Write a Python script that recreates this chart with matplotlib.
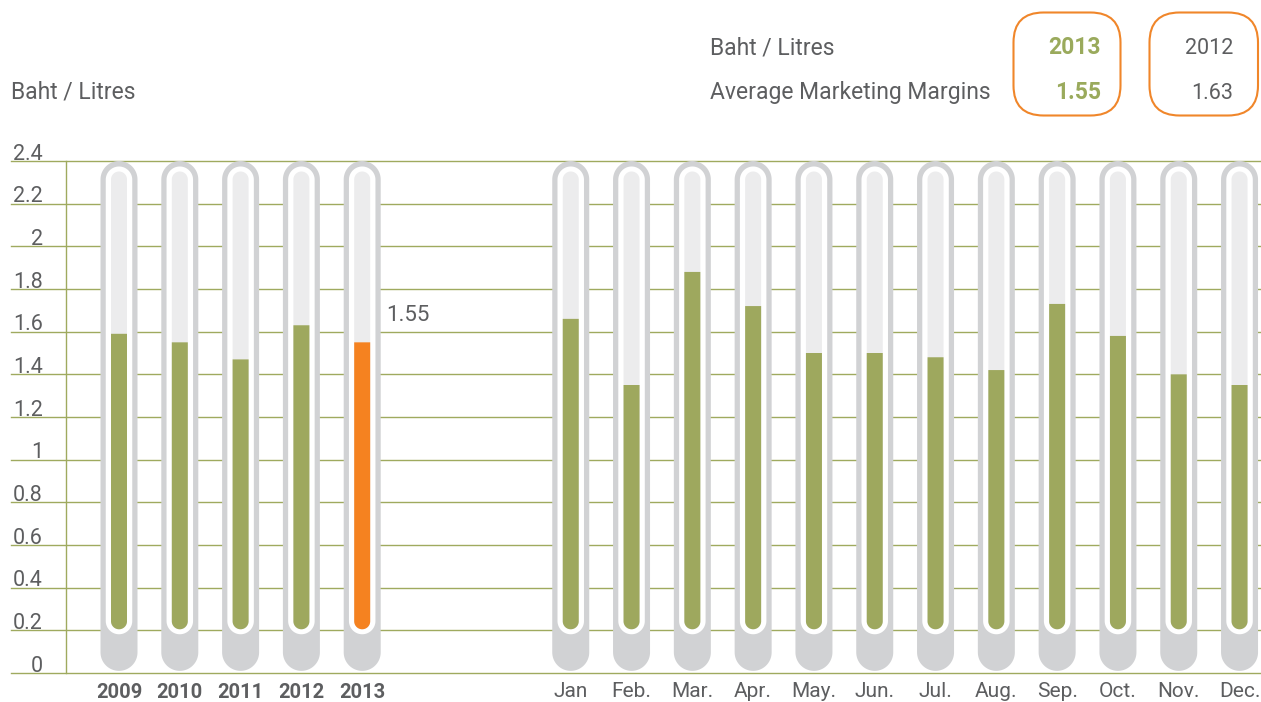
import numpy as np
import matplotlib
matplotlib.use("Agg")
import matplotlib.pyplot as plt
from matplotlib.patches import Polygon, FancyBboxPatch
from matplotlib import transforms

# ---- data -------------------------------------------------------------
years = ["2009", "2010", "2011", "2012", "2013"]
year_margins = [1.59, 1.55, 1.47, 1.63, 1.55]

months = ["Jan", "Feb.", "Mar.", "Apr.", "May.", "Jun.",
          "Jul.", "Aug.", "Sep.", "Oct.", "Nov.", "Dec."]
month_margins = [1.66, 1.35, 1.88, 1.72, 1.50, 1.50,
                 1.48, 1.42, 1.73, 1.58, 1.40, 1.35]

y_ticks = [0, 0.2, 0.4, 0.6, 0.8, 1.0, 1.2, 1.4, 1.6, 1.8, 2.0, 2.2, 2.4]
y_tick_labels = ["0", "0.2", "0.4", "0.6", "0.8", "1", "1.2", "1.4",
                 "1.6", "1.8", "2", "2.2", "2.4"]

summary_years = ["2013", "2012"]
summary_values = [1.55, 1.63]
unit_label = "Baht / Litres"
summary_label = "Average Marketing Margins"

# ---- style ------------------------------------------------------------
FONT = ["Roboto", "DejaVu Sans"]
TEXT = "#5d5e60"
GREEN_TEXT = "#9aaa5c"
GRID = "#9faa5f"
TUBE = "#d1d2d4"
TUBE_INNER = "#ececed"
GREEN = "#9ea85e"
ORANGE = "#f58220"
BOX = "#f0862a"

plt.rcParams["font.family"] = FONT

W, H = 1261, 702
fig = plt.figure(figsize=(W / 100, H / 100), dpi=100)
fig.patch.set_facecolor("white")

# main plotting area (positions in pixels of the canvas)
ax_left, ax_right, ax_bottom, ax_top = 66, 1261, 29, 541
ax = fig.add_axes([ax_left / W, ax_bottom / H,
                   (ax_right - ax_left) / W, (ax_top - ax_bottom) / H])
slot_px = 60.8
x0 = -(119 - ax_left) / slot_px
ax.set_xlim(x0, x0 + (ax_right - ax_left) / slot_px)
ax.set_ylim(0, 2.4)
ax.axis("off")

year_pos = np.arange(len(years))
month_pos = 7.43 + np.arange(len(months))

PX_X = ax.transData.transform((1, 0))[0] - ax.transData.transform((0, 0))[0]
PX_Y = ax.transData.transform((0, 1))[1] - ax.transData.transform((0, 0))[1]

# gridlines reaching out under the tick labels
grid_xmin = (11 - ax_left) / (ax_right - ax_left)
for t in y_ticks:
    ax.axhline(t, xmin=grid_xmin, xmax=1, color=GRID, lw=1.0,
               clip_on=False, zorder=1)
ax.plot([x0, x0], [0, 2.4], color=GRID, lw=1.0, clip_on=False, zorder=1)

# y tick labels sitting just above each gridline
lab_x = (43 - ax_left) / (ax_right - ax_left)
ytrans = transforms.offset_copy(
    transforms.blended_transform_factory(ax.transAxes, ax.transData),
    fig=fig, x=0, y=1.5, units="dots")
for t, lab in zip(y_ticks, y_tick_labels):
    ax.text(lab_x, t, lab, transform=ytrans, ha="right", va="baseline",
            fontsize=15.5, color=TEXT)


def capsule(xc, y_lo, y_hi, w_px, color, z, round_top=True):
    rx = w_px / 2 / PX_X
    ry = w_px / 2 / PX_Y
    t = np.linspace(0, np.pi, 48)
    if round_top:
        top = np.column_stack([xc + rx * np.cos(t),
                               (y_hi - ry) + ry * np.sin(t)])
    else:
        top = np.array([[xc + rx, y_hi], [xc - rx, y_hi]])
    bot = np.column_stack([xc - rx * np.cos(t),
                           (y_lo + ry) - ry * np.sin(t)])
    poly = Polygon(np.vstack([top, bot]), closed=True, facecolor=color,
                   edgecolor="none", lw=0, zorder=z, clip_on=False)
    ax.add_patch(poly)


BAR_FLOOR = 0.205
positions = list(year_pos) + list(month_pos)
values = list(year_margins) + list(month_margins)
colors = [GREEN] * (len(years) - 1) + [ORANGE] + [GREEN] * len(months)

for xc, v, c in zip(positions, values, colors):
    capsule(xc, 0.01, 2.4, 37, TUBE, 2)
    capsule(xc, BAR_FLOOR - 5 / PX_Y, 2.4 - 5.5 / PX_Y, 26.5, "white", 3)
    capsule(xc, BAR_FLOOR, 2.4 - 10.5 / PX_Y, 16, TUBE_INNER, 4)
    capsule(xc, BAR_FLOOR, v, 16, c, 5, round_top=False)

# value label for the latest year
lab_tr = transforms.offset_copy(ax.transData, fig=fig, x=24, y=21.5, units="dots")
ax.text(year_pos[-1], year_margins[-1], f"{year_margins[-1]:.2f}",
        transform=lab_tr, ha="left", va="baseline", fontsize=16,
        color=TEXT)

# category labels below the baseline
xtrans_y = transforms.offset_copy(
    transforms.blended_transform_factory(ax.transData, ax.transAxes),
    fig=fig, x=0, y=-25.5, units="dots")
for xc, lab in zip(year_pos, years):
    ax.text(xc, 0, lab, transform=xtrans_y, ha="center", va="baseline",
            fontsize=14.5, fontweight="bold", color=TEXT)
xtrans_m = transforms.offset_copy(
    transforms.blended_transform_factory(ax.transData, ax.transAxes),
    fig=fig, x=0, y=-24, units="dots")
for xc, lab in zip(month_pos, months):
    ax.text(xc, 0, lab, transform=xtrans_m, ha="center", va="baseline",
            fontsize=15, color=TEXT)

# header overlay in canvas pixel units
hd = fig.add_axes([0, 0, 1, 1], zorder=10)
hd.set_xlim(0, W)
hd.set_ylim(H, 0)
hd.axis("off")
hd.patch.set_alpha(0)

hd.text(11, 99, unit_label, fontsize=16.5, color=TEXT, ha="left",
        va="baseline")
hd.text(710, 54, unit_label, fontsize=16.5, color=TEXT, ha="left",
        va="baseline")
hd.text(710, 99, summary_label, fontsize=16.5, color=TEXT, ha="left",
        va="baseline")

box_specs = [(1013.5, 1120.5, 1101, GREEN_TEXT, "bold", 16.5),
             (1149.5, 1258.0, 1233.5, TEXT, "normal", 15.5)]
for (bx0, bx1, tx, col, wt, fs), yr, val in zip(box_specs, summary_years, summary_values):
    hd.add_patch(FancyBboxPatch((bx0, 12.5), bx1 - bx0, 103,
                                boxstyle="round,pad=0,rounding_size=30",
                                facecolor="none", edgecolor=BOX, lw=1.5))
    hd.text(tx, 53.5, yr, fontsize=fs, color=col, fontweight=wt,
            ha="right", va="baseline")
    hd.text(tx, 99, f"{val:.2f}", fontsize=fs, color=col, fontweight=wt,
            ha="right", va="baseline")

fig.savefig("out.png", dpi=100, facecolor="white")
